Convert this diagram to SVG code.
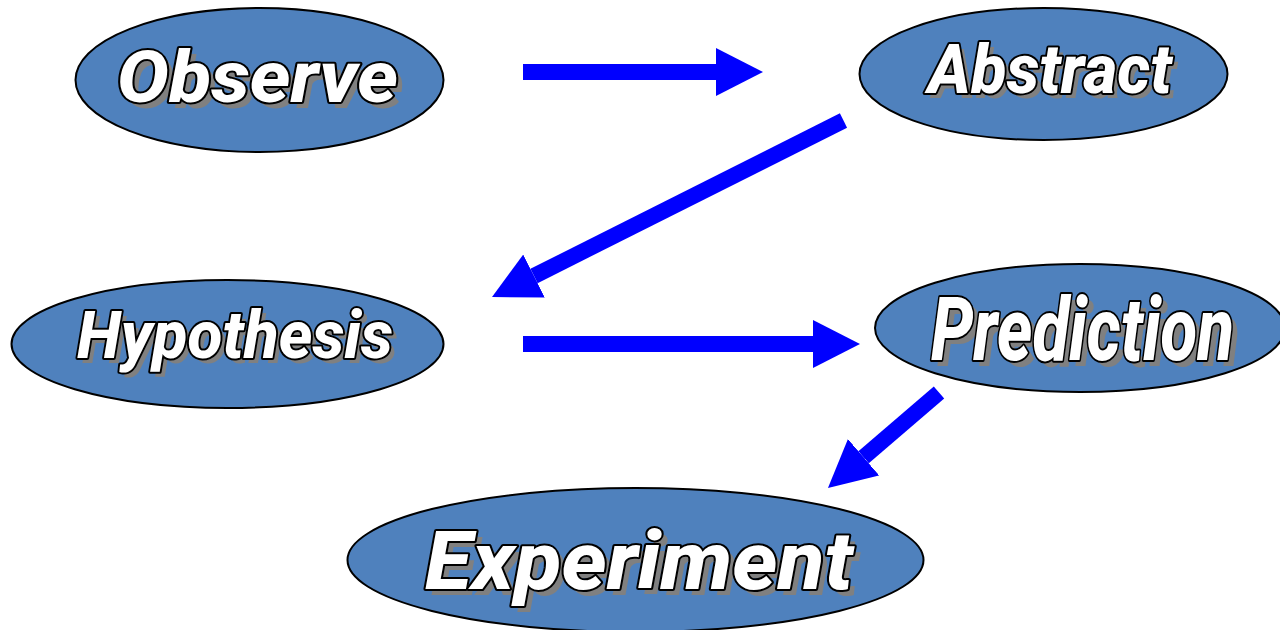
<svg xmlns="http://www.w3.org/2000/svg" width="1280" height="630" viewBox="0 0 1280 630">
<style>
.node ellipse{fill:#4F81BD;stroke:#000;stroke-width:2}
.lbl{font-family:Roboto,"Liberation Sans",Arial,sans-serif;font-weight:800;font-style:italic}
.sh{fill:#808080}
.fg{fill:#fff;stroke:#000;stroke-width:4;stroke-linejoin:round;paint-order:stroke}
.conn line{stroke:#0000FF;stroke-width:16;fill:none}
</style>
<defs>
<marker id="ah" markerUnits="userSpaceOnUse" markerWidth="48" markerHeight="48" viewBox="0 0 48 48" refX="0" refY="24" orient="auto">
<path d="M0,0 L47,24 L0,48 z" fill="#0000FF"/>
</marker>
</defs>
<rect width="1280" height="630" fill="#fff"/>
<g id="observe" class="node">
<ellipse cx="259.5" cy="80" rx="184" ry="72"/>
<text class="lbl sh" x="123" y="108" font-size="72" textLength="281" lengthAdjust="spacingAndGlyphs">Observe</text>
<text class="lbl fg" x="117" y="102" font-size="72" textLength="281" lengthAdjust="spacingAndGlyphs">Observe</text>
</g>
<g id="abstract" class="node">
<ellipse cx="1043.5" cy="74" rx="184" ry="66"/>
<text class="lbl sh" x="933" y="98" font-size="68" textLength="244" lengthAdjust="spacingAndGlyphs">Abstract</text>
<text class="lbl fg" x="928" y="93" font-size="68" textLength="244" lengthAdjust="spacingAndGlyphs">Abstract</text>
</g>
<g id="hypothesis" class="node">
<ellipse cx="227.5" cy="344" rx="216" ry="64"/>
<text class="lbl sh" x="82" y="363" font-size="66" textLength="316" lengthAdjust="spacingAndGlyphs">Hypothesis</text>
<text class="lbl fg" x="77" y="358" font-size="66" textLength="316" lengthAdjust="spacingAndGlyphs">Hypothesis</text>
</g>
<g id="prediction" class="node">
<ellipse cx="1080" cy="328" rx="205" ry="64"/>
<text class="lbl sh" x="937" y="366" font-size="88" textLength="303" lengthAdjust="spacingAndGlyphs">Prediction</text>
<text class="lbl fg" x="931" y="360" font-size="88" textLength="303" lengthAdjust="spacingAndGlyphs">Prediction</text>
</g>
<g id="experiment" class="node">
<ellipse cx="635.5" cy="560" rx="288" ry="72"/>
<text class="lbl sh" x="431" y="595" font-size="82" textLength="428" lengthAdjust="spacingAndGlyphs">Experiment</text>
<text class="lbl fg" x="425" y="589" font-size="82" textLength="428" lengthAdjust="spacingAndGlyphs">Experiment</text>
</g>
<g id="connectors" class="conn">
<line x1="523" y1="72" x2="716" y2="72" marker-end="url(#ah)"/>
<line x1="843.5" y1="120.5" x2="534" y2="276" marker-end="url(#ah)"/>
<line x1="523" y1="344" x2="813" y2="344" marker-end="url(#ah)"/>
<line x1="939" y1="392.5" x2="863.6" y2="457.3" marker-end="url(#ah)"/>
</g>
</svg>
